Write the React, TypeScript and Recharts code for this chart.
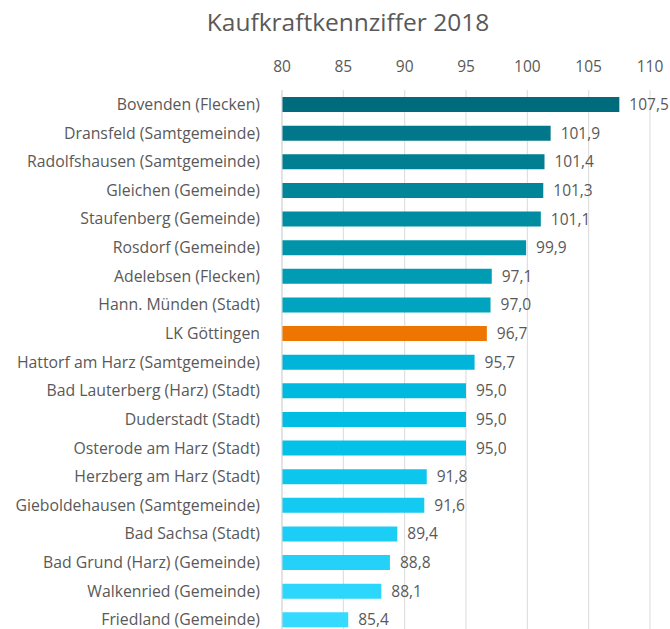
import React from "react";
import { BarChart, Bar, XAxis, YAxis, CartesianGrid, Cell, LabelList } from "recharts";

const places = [
  "Bovenden (Flecken)",
  "Dransfeld (Samtgemeinde)",
  "Radolfshausen (Samtgemeinde)",
  "Gleichen (Gemeinde)",
  "Staufenberg (Gemeinde)",
  "Rosdorf (Gemeinde)",
  "Adelebsen (Flecken)",
  "Hann. Münden (Stadt)",
  "LK Göttingen",
  "Hattorf am Harz (Samtgemeinde)",
  "Bad Lauterberg (Harz) (Stadt)",
  "Duderstadt (Stadt)",
  "Osterode am Harz (Stadt)",
  "Herzberg am Harz (Stadt)",
  "Gieboldehausen (Samtgemeinde)",
  "Bad Sachsa (Stadt)",
  "Bad Grund (Harz) (Gemeinde)",
  "Walkenried (Gemeinde)",
  "Friedland (Gemeinde)",
];

const index2018 = [107.5, 101.9, 101.4, 101.3, 101.1, 99.9, 97.1, 97.0, 96.7, 95.7, 95.0, 95.0, 95.0, 91.8, 91.6, 89.4, 88.8, 88.1, 85.4];

const barColors = [
  "#006B7D", "#00778A", "#007E92", "#008599", "#008CA1", "#0094AA", "#009CB4", "#00A4BE",
  "#EE7600",
  "#00B5D9", "#00B9DE", "#00BDE3", "#04C1E8", "#0CC6ED", "#14CAF1", "#1CCEF5", "#24D2F9", "#2CD6FC", "#34DAFF",
];

const xTicks = [80, 85, 90, 95, 100, 105, 110];

const data = places.map((name, i) => ({ name, value: index2018[i] }));

const font = "'Open Sans', sans-serif";
const fmt = (v: number) => v.toFixed(1).replace(".", ",");

export default function App() {
  return (
    <div style={{ position: "relative", width: 670, height: 629, overflow: "hidden", fontFamily: font }}>
      <style>{"body{margin:0}"}</style>
      <div
        style={{
          position: "absolute",
          top: 5,
          left: 0,
          width: 696,
          textAlign: "center",
          fontSize: 24.5,
          color: "#595959",
        }}
      >
        Kaufkraftkennziffer 2018
      </div>
      <BarChart
        width={670}
        height={634}
        data={data}
        layout="vertical"
        margin={{ top: 0, right: 20, bottom: 0, left: 0 }}
        barSize={15}
      >
        <CartesianGrid horizontal={false} stroke="#D9D9D9" />
        <XAxis
          type="number"
          orientation="top"
          domain={[80, 110]}
          ticks={xTicks}
          height={90}
          axisLine={false}
          tickLine={false}
          tickSize={0}
          tickMargin={18}
          tick={{ fontSize: 15.5, fill: "#595959", fontFamily: font }}
        />
        <YAxis
          type="category"
          dataKey="name"
          width={282}
          axisLine={{ stroke: "#D9D9D9" }}
          tickLine={false}
          tickSize={0}
          tickMargin={22}
          interval={0}
          tick={{ fontSize: 15.8, fill: "#595959", fontFamily: font }}
        />
        <Bar dataKey="value" isAnimationActive={false}>
          {data.map((d, i) => (
            <Cell key={d.name} fill={barColors[i]} />
          ))}
          <LabelList
            dataKey="value"
            position="right"
            offset={10}
            formatter={(v: any) => fmt(Number(v))}
            style={{ fontSize: 15.5, fill: "#595959", fontFamily: font }}
          />
        </Bar>
      </BarChart>
    </div>
  );
}
